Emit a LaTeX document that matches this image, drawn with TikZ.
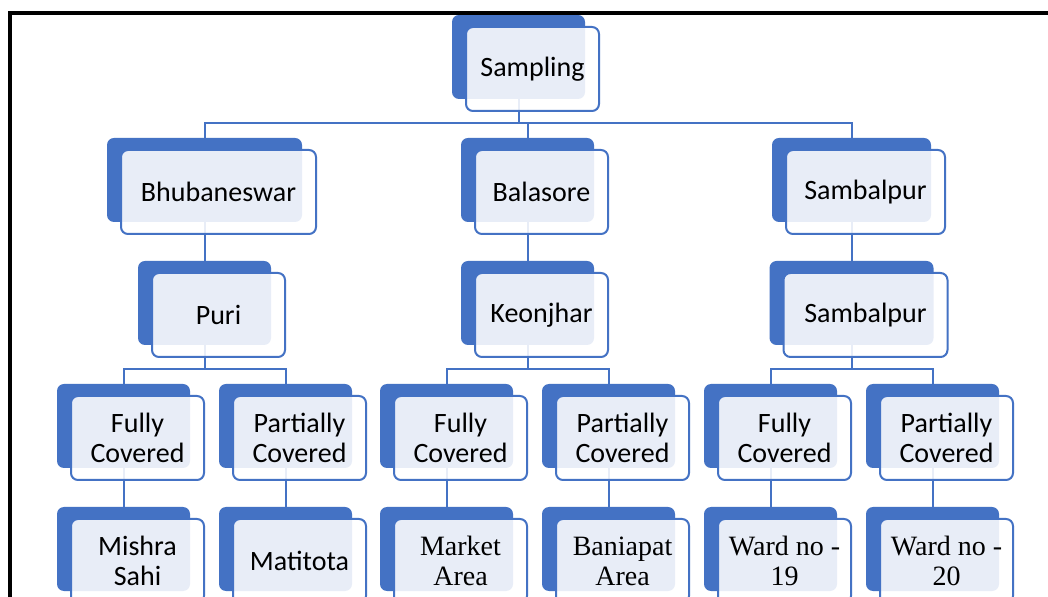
\documentclass[tikz,border=0pt]{standalone}
\usepackage{fontspec}
\setmainfont{Carlito}
\newfontfamily\romanpart{Liberation Serif}
\usetikzlibrary{positioning,backgrounds}
\definecolor{hierblue}{RGB}{68,114,196}
\tikzset{tier/.style={
       rectangle,
       rounded corners=3.5pt,
       draw=hierblue,
       line width=1pt,
       fill=white,
       fill opacity=0.88,
       text opacity=1,
       outer sep=0pt,
       minimum width=66.5pt,
       minimum height=42pt,
       align=center,
       font=\fontsize{14}{15}\selectfont,
       preaction={fill=hierblue, fill opacity=1,
                  transform canvas={shift={(-7pt,6pt)}}}
     },
     romantext/.style={font=\romanpart\fontsize{14}{15}\selectfont},
     link/.style={draw=hierblue, line width=1pt},
     frame/.style={draw=black, line width=2pt}
}

\begin{document}
\begin{tikzpicture}[x=0.5pt, y=-0.5pt, node distance=19.5pt]
    \useasboundingbox (0,0) rectangle (1048,597);

    \node[tier] (sampling) at (532.5,69) {Sampling};

    % districts
    \node[tier, minimum width=97.5pt] (bhubaneswar) at (218.5,192) {Bhubaneswar};
    \node[tier] (balasore) at (541.5,192) {Balasore};
    \node[tier, minimum width=79.5pt] (sambalpur) at (865.5,192) {Sambalpur};

    \node[tier] (puri) [below=of bhubaneswar] {Puri};
    \node[tier] (keonjhar) [below=of balasore] {Keonjhar};
    \node[tier, minimum width=82pt] (sambalpurdist) [below=of sambalpur] {Sambalpur};

    % coverage
    \node[tier] (puriful) [below=of puri, xshift=-40.5pt] {Fully\\Covered};
    \node[tier] (puripart) [below=of puri, xshift=40.5pt] {Partially\\Covered};
    \node[tier] (keonful) [below=of keonjhar, xshift=-40.5pt] {Fully\\Covered};
    \node[tier] (keonpart) [below=of keonjhar, xshift=40.5pt] {Partially\\Covered};
    \node[tier] (sambful) [below=of sambalpurdist, xshift=-40.5pt] {Fully\\Covered};
    \node[tier] (sambpart) [below=of sambalpurdist, xshift=40.5pt] {Partially\\Covered};

    % areas
    \node[tier] (mishra) [below=of puriful] {Mishra\\Sahi};
    \node[tier] (matitota) [below=of puripart] {Matitota};
    \node[tier, romantext] (market) [below=of keonful] {Market\\Area};
    \node[tier, romantext] (baniapat) [below=of keonpart] {Baniapat\\Area};
    \node[tier, romantext] (wardA) [below=of sambful] {Ward no -\\19};
    \node[tier, romantext] (wardB) [below=of sambpart] {Ward no -\\20};

    \begin{scope}[on background layer]
      \fill[white] (0,0) rectangle (1048,597);
      \draw[link] ([xshift=-7pt]bhubaneswar.center) -- ([xshift=-7pt,yshift=13.5pt]bhubaneswar.north) -| ([xshift=-7pt]sampling.center);
      \draw[link] ([xshift=-7pt]balasore.center) -- ([xshift=-7pt,yshift=13.5pt]balasore.north) -| ([xshift=-7pt]sampling.center);
      \draw[link] ([xshift=-7pt]sambalpur.center) -- ([xshift=-7pt,yshift=13.5pt]sambalpur.north) -| ([xshift=-7pt]sampling.center);
      \draw[link] ([xshift=-7pt]bhubaneswar.center) -- ([xshift=-7pt]puri.center);
      \draw[link] ([xshift=-7pt]balasore.center) -- ([xshift=-7pt]keonjhar.center);
      \draw[link] ([xshift=-7pt]sambalpur.center) -- ([xshift=-7pt]sambalpurdist.center);
      \draw[link] ([xshift=-7pt]puriful.center) -- ([xshift=-7pt,yshift=13.5pt]puriful.north) -| ([xshift=-7pt]puri.center);
      \draw[link] ([xshift=-7pt]puripart.center) -- ([xshift=-7pt,yshift=13.5pt]puripart.north) -| ([xshift=-7pt]puri.center);
      \draw[link] ([xshift=-7pt]keonful.center) -- ([xshift=-7pt,yshift=13.5pt]keonful.north) -| ([xshift=-7pt]keonjhar.center);
      \draw[link] ([xshift=-7pt]keonpart.center) -- ([xshift=-7pt,yshift=13.5pt]keonpart.north) -| ([xshift=-7pt]keonjhar.center);
      \draw[link] ([xshift=-7pt]sambful.center) -- ([xshift=-7pt,yshift=13.5pt]sambful.north) -| ([xshift=-7pt]sambalpurdist.center);
      \draw[link] ([xshift=-7pt]sambpart.center) -- ([xshift=-7pt,yshift=13.5pt]sambpart.north) -| ([xshift=-7pt]sambalpurdist.center);
      \draw[link] ([xshift=-7pt]puriful.center) -- ([xshift=-7pt]mishra.center);
      \draw[link] ([xshift=-7pt]puripart.center) -- ([xshift=-7pt]matitota.center);
      \draw[link] ([xshift=-7pt]keonful.center) -- ([xshift=-7pt]market.center);
      \draw[link] ([xshift=-7pt]keonpart.center) -- ([xshift=-7pt]baniapat.center);
      \draw[link] ([xshift=-7pt]sambful.center) -- ([xshift=-7pt]wardA.center);
      \draw[link] ([xshift=-7pt]sambpart.center) -- ([xshift=-7pt]wardB.center);
    \end{scope}

    \draw[frame] (10,597) -- (10,13) -- (1048,13);
  \end{tikzpicture}
\end{document}
